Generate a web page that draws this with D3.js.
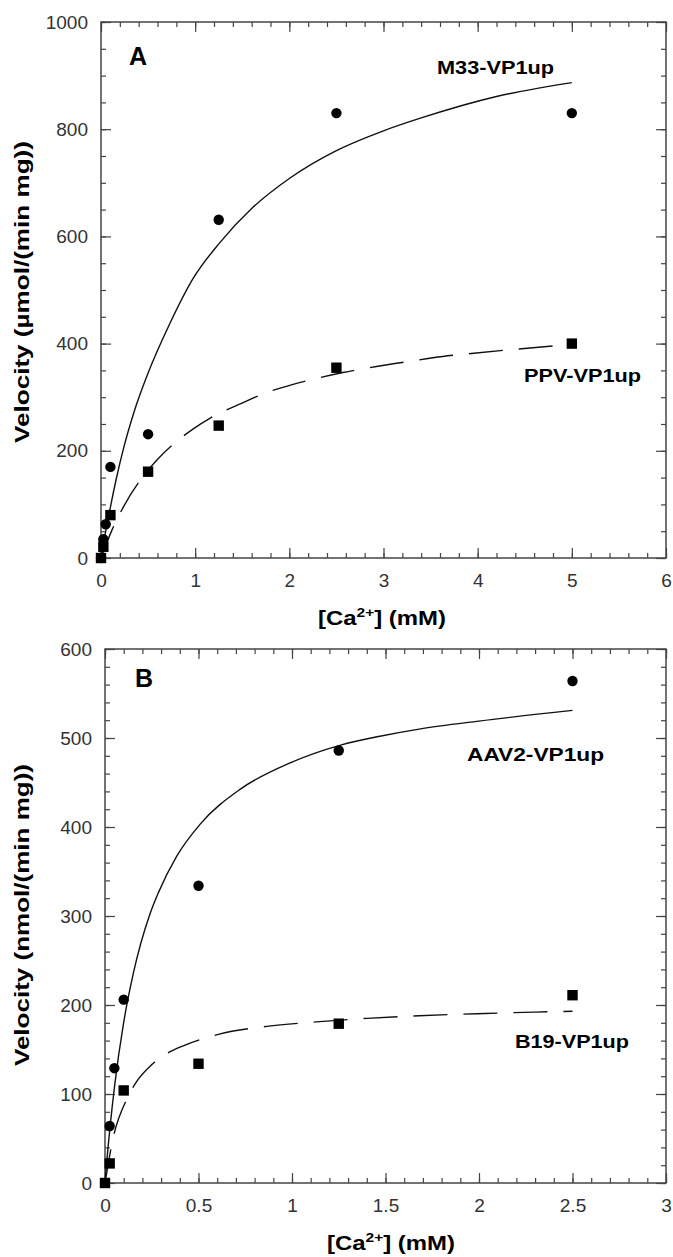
<!DOCTYPE html>
<html>
<head>
<meta charset="utf-8">
<script src="https://cdn.jsdelivr.net/npm/d3@7"></script>
<style>
  body { margin: 0; background: #fff; }
  svg text { font-family: "Liberation Sans", Arial, Helvetica, sans-serif; }
</style>
</head>
<body>
<svg id="chart" width="673" height="1257"></svg>
<script>
// panel A - M33 and PPV
var concA = [0, 0.025, 0.05, 0.1, 0.5, 1.25, 2.5, 5];
var m33Velocity = [0, 35, 63, 170, 231, 631, 830, 830];
var ppvConc = [0, 0.025, 0.1, 0.5, 1.25, 2.5, 5];
var ppvVelocity = [0, 21, 80, 161, 247, 355, 400];
// fitted curves
var m33FitX = [0, 0.02, 0.05, 0.1, 0.16, 0.24, 0.35, 0.5, 0.73, 0.98, 1.26, 1.6, 2.0, 2.5, 3.0, 3.4, 4.2, 5];
var m33FitY = [0, 21, 50, 95, 146, 205, 272, 345, 437, 522, 588, 652, 708, 760, 797, 821, 861, 887];
var ppvFitX = [0, 0.067, 0.116, 0.237, 0.5, 0.627, 0.98, 1.16, 1.51, 1.69, 2.04, 2.22, 2.57, 2.75, 3.28, 3.63, 3.96, 4.31, 4.84, 5];
var ppvFitY = [0, 31, 52, 95, 164, 189, 241, 261, 290, 304, 324, 332, 346, 352, 367, 376, 382, 388, 396, 398];

// panel B - AAV2 and B19
var aav2Conc = [0.025, 0.05, 0.1, 0.5, 1.25, 2.5];
var aav2Velocity = [64, 129, 206, 334, 486, 564];
var b19Conc = [0, 0.025, 0.1, 0.5, 1.25, 2.5];
var b19Velocity = [0, 22, 104, 134, 179, 211];
var aav2FitX = [0, 0.005, 0.027, 0.053, 0.098, 0.152, 0.24, 0.285, 0.383, 0.508, 0.72, 0.99, 1.26, 1.47, 1.68, 2.0, 2.5];
var aav2FitY = [0, 13, 63, 112, 178, 236, 302, 326, 367, 403, 442, 472, 492, 502, 510, 519, 531];
var b19FitX = [0, 0.044, 0.116, 0.169, 0.25, 0.348, 0.428, 0.606, 0.865, 1.13, 1.4, 1.68, 2.03, 2.3, 2.5];
var b19FitY = [0, 51, 94, 114, 133, 147.5, 155, 167, 176, 181, 185, 188, 190.5, 192, 193];

// axis ticks
var xTicksA = [0, 1, 2, 3, 4, 5, 6];
var yTicksA = [0, 200, 400, 600, 800, 1000];
var xTicksB = [0, 0.5, 1, 1.5, 2, 2.5, 3];
var yTicksB = [0, 100, 200, 300, 400, 500, 600];

var svg = d3.select("#chart");

function zip(xs, ys) {
    return xs.map((x, i) => ({ x: x, y: ys[i] }));
}

function drawPanel(opt) {
    var x = d3.scaleLinear().domain(opt.xDomain).range([opt.left, opt.right]);
    var y = d3.scaleLinear().domain(opt.yDomain).range([opt.bottom, opt.top]);
    var g = svg.append("g");

    //ticks on all four sides, pointing inward; labels only bottom and left
    var xMinor = d3.range(opt.xDomain[0], opt.xDomain[1] + 1e-9, opt.xMinor);
    var yMinor = d3.range(opt.yDomain[0], opt.yDomain[1] + 1e-9, opt.yMinor);
    var sides = [
        { make: () => d3.axisBottom(x), pos: "translate(0," + opt.bottom + ")", labels: true, horiz: true },
        { make: () => d3.axisTop(x), pos: "translate(0," + opt.top + ")", labels: false, horiz: true },
        { make: () => d3.axisLeft(y), pos: "translate(" + opt.left + ",0)", labels: true, horiz: false },
        { make: () => d3.axisRight(y), pos: "translate(" + opt.right + ",0)", labels: false, horiz: false }
    ];
    sides.forEach(function(s) {
        g.append("g")
            .attr("transform", s.pos)
            .call(s.make()
                .tickValues(s.horiz ? xMinor : yMinor)
                .tickSize(-5)
                .tickFormat(""));
        g.append("g")
            .attr("class", "major")
            .attr("transform", s.pos)
            .call(s.make()
                .tickValues(s.horiz ? opt.xTicks : opt.yTicks)
                .tickSize(-10)
                .tickPadding(s.horiz ? 16 : 13)
                .tickFormat(s.labels ? (d => d) : ""));
    });
    g.selectAll(".domain").remove();
    g.selectAll(".tick line").attr("stroke", "#444").attr("stroke-width", 1.2);
    g.selectAll(".major .tick text")
        .attr("fill", "#333")
        .style("font-size", "19px");

    //frame
    g.append("rect")
        .attr("x", opt.left).attr("y", opt.top)
        .attr("width", opt.right - opt.left).attr("height", opt.bottom - opt.top)
        .attr("fill", "none").attr("stroke", "#444").attr("stroke-width", 1.5);

    var line = d3.line().x(d => x(d.x)).y(d => y(d.y)).curve(d3.curveMonotoneX);

    g.append("path")
        .datum(zip(opt.solidX, opt.solidY))
        .attr("d", line)
        .attr("fill", "none").attr("stroke", "#111").attr("stroke-width", 1.4);
    g.append("path")
        .datum(zip(opt.dashX, opt.dashY))
        .attr("d", line)
        .attr("fill", "none").attr("stroke", "#111").attr("stroke-width", 1.4)
        .attr("stroke-dasharray", "34,16");

    g.selectAll(".dot")
        .data(zip(opt.circX, opt.circY))
        .enter().append("circle")
        .attr("cx", d => x(d.x)).attr("cy", d => y(d.y)).attr("r", 5.2)
        .attr("fill", "#000");
    g.selectAll(".sq")
        .data(zip(opt.sqX, opt.sqY))
        .enter().append("rect")
        .attr("x", d => x(d.x) - 5.2).attr("y", d => y(d.y) - 5.2)
        .attr("width", 10.4).attr("height", 10.4)
        .attr("fill", "#000");

    //panel letter
    g.append("text")
        .attr("x", opt.letterPos[0]).attr("y", opt.letterPos[1])
        .style("font-size", "25px").style("font-weight", "bold")
        .text(opt.letter);

    //series labels
    opt.labels.forEach(function(l) {
        g.append("text")
            .attr("x", l.x).attr("y", l.y)
            .attr("textLength", l.w).attr("lengthAdjust", "spacingAndGlyphs")
            .style("font-size", "19px").style("font-weight", "bold")
            .text(l.text);
    });

    //y title
    g.append("text")
        .attr("transform", "translate(" + opt.yTitlePos[0] + "," + opt.yTitlePos[1] + ") rotate(-90)")
        .attr("text-anchor", "middle")
        .attr("textLength", opt.yTitleLen).attr("lengthAdjust", "spacingAndGlyphs")
        .style("font-size", "20px").style("font-weight", "bold")
        .text(opt.yTitle);

    //x title with superscript
    var xt = g.append("text")
        .attr("x", opt.xTitlePos[0]).attr("y", opt.xTitlePos[1])
        .attr("textLength", 128).attr("lengthAdjust", "spacingAndGlyphs")
        .style("font-size", "20px").style("font-weight", "bold");
    xt.append("tspan").text("[Ca");
    xt.append("tspan").attr("dy", -8).style("font-size", "13px").text("2+");
    xt.append("tspan").attr("dy", 8).text("]  (mM)");
}

drawPanel({
    left: 101, right: 666, top: 22, bottom: 558,
    xDomain: [0, 6], yDomain: [0, 1000], xMinor: 0.2, yMinor: 50,
    xTicks: xTicksA, yTicks: yTicksA,
    circX: concA, circY: m33Velocity, sqX: ppvConc, sqY: ppvVelocity,
    solidX: m33FitX, solidY: m33FitY, dashX: ppvFitX, dashY: ppvFitY,
    letter: "A", letterPos: [129, 65],
    labels: [
        { text: "M33-VP1up", x: 437, y: 74, w: 117 },
        { text: "PPV-VP1up", x: 524, y: 382, w: 117 }
    ],
    yTitle: "Velocity (\u00b5mol/(min mg))", yTitlePos: [29, 292], yTitleLen: 302,
    xTitlePos: [318, 625]
});

drawPanel({
    left: 105, right: 666, top: 649, bottom: 1183,
    xDomain: [0, 3], yDomain: [0, 600], xMinor: 0.1, yMinor: 20,
    xTicks: xTicksB, yTicks: yTicksB,
    circX: aav2Conc, circY: aav2Velocity, sqX: b19Conc, sqY: b19Velocity,
    solidX: aav2FitX, solidY: aav2FitY, dashX: b19FitX, dashY: b19FitY,
    letter: "B", letterPos: [135, 687],
    labels: [
        { text: "AAV2-VP1up", x: 467, y: 761, w: 137 },
        { text: "B19-VP1up", x: 515, y: 1048, w: 114 }
    ],
    yTitle: "Velocity (nmol/(min mg))", yTitlePos: [29, 915], yTitleLen: 302,
    xTitlePos: [327, 1250]
});
</script>
</body>
</html>
